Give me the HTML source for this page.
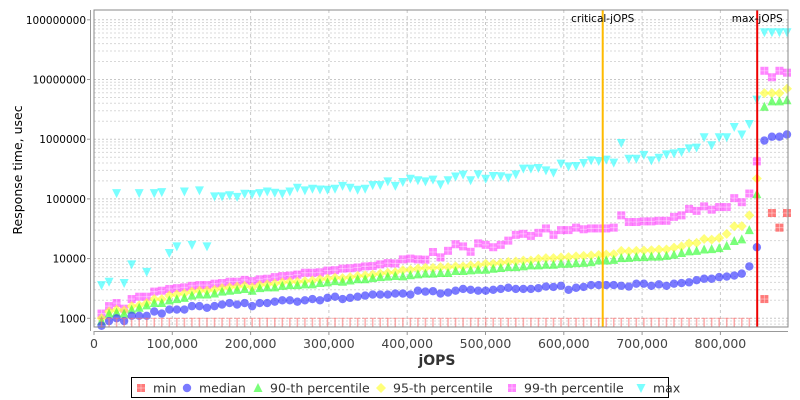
<!DOCTYPE html>
<html><head><meta charset="utf-8">
<style>
html,body{margin:0;padding:0;background:#fff;}
svg{display:block;font-family:"DejaVu Sans","Liberation Sans",sans-serif;}
</style></head>
<body>
<svg id="chart" width="800" height="400" viewBox="0 0 800 400" xmlns="http://www.w3.org/2000/svg">
  <rect x="0" y="0" width="800" height="400" fill="#fff"/>
  <g id="grid"></g>
  <g id="marks"></g>
  <rect x="94" y="10" width="694" height="317" fill="none" stroke="#888" stroke-width="1"/>
  <line x1="90.5" y1="10" x2="90.5" y2="331" stroke="#999"/>
  <line x1="94" y1="331.5" x2="788" y2="331.5" stroke="#999"/>
  <g id="axes"></g>
  <text x="437" y="365" font-size="14" font-weight="bold" fill="#333" text-anchor="middle">jOPS</text>
  <text transform="translate(22,170) rotate(-90)" font-size="12.5" fill="#000" text-anchor="middle">Response time, usec</text>
  <g id="legend">
    <rect x="131.5" y="377.5" width="537" height="20" fill="#fff" stroke="#000"/>
  </g>
</svg>
<script>
// ---- data (values in thousands of usec) ----
const xStep = 9620;
const criticalJops = 649700;
const maxJops = 847000;
const yTickLabels = ["1000","10000","100000","1000000","10000000","100000000"];
const xTickLabels = ["0","100,000","200,000","300,000","400,000","500,000","600,000","700,000","800,000"];
const minSeries = [1,1,1,1,1,1,1,1,1,1,1,1,1,1,1,1,1,1,1,1,1,1,1,1,1,1,1,1,1,1,1,1,1,1,1,1,1,1,1,1,1,1,1,1,1,1,1,1,1,1,1,1,1,1,1,1,1,1,1,1,1,1,1,1,1,1,1,1,1,1,1,1,1,1,1,1,1,1,1,1,1,1,1,1,1,1,1,null,2.1,58,33,58];
const medianSeries = [0.75,0.9,1.0,0.9,1.1,1.1,1.1,1.3,1.2,1.4,1.4,1.4,1.6,1.6,1.5,1.6,1.7,1.8,1.7,1.8,1.6,1.8,1.8,1.9,2.0,2.0,1.9,2.0,2.1,2.0,2.2,2.3,2.1,2.2,2.3,2.4,2.5,2.5,2.5,2.6,
2.6,2.5,2.9,2.8,2.85,2.6,2.7,2.9,3.1,3.0,2.9,2.9,3.0,3.1,3.25,3.1,3.1,3.1,3.2,3.4,3.35,3.5,3.0,3.25,3.35,3.6,3.6,3.6,3.6,3.5,3.4,3.8,3.8,3.5,3.7,3.5,3.8,3.9,4.0,4.35,4.6,4.6,4.9,5.0,
5.2,5.6,7.4,15.5,950,1100,1100,1200];
const p90Series = [0.9,1.2,1.25,1.2,1.4,1.5,1.65,1.8,1.8,2.0,2.1,2.2,2.4,2.5,2.5,2.6,2.8,2.9,3.0,3.1,2.9,3.2,3.3,3.3,3.5,3.6,3.6,3.7,3.7,3.9,4.0,4.2,4.1,4.3,4.5,4.5,4.7,4.9,5.0,5.1,
5.05,5.25,5.45,5.6,5.6,5.75,5.75,6.2,6.2,6.35,6.5,6.5,6.75,6.95,7.2,7.2,7.4,7.7,7.7,7.9,7.9,8.2,8.2,8.4,8.5,8.7,9.3,9.3,9.5,10.2,10.3,10.6,10.6,10.8,10.8,11.1,11.6,12.4,13.2,13.5,14.2,14.4,15.0,16.3,
19.7,21,30,120,3500,4300,4300,4500];
const p95Series = [1.0,1.3,1.4,1.35,1.6,1.65,1.8,2.1,2.1,2.4,2.5,2.6,2.8,2.9,2.9,3.0,3.2,3.3,3.4,3.5,3.3,3.6,3.7,3.8,4.0,4.1,4.1,4.2,4.3,4.5,4.6,4.8,4.7,4.9,5.1,5.2,5.4,5.6,5.8,5.9,
6.4,6.5,6.8,7.0,7.0,7.2,7.2,7.4,7.4,7.7,7.7,8.2,8.2,8.5,8.8,9.0,9.3,9.3,9.9,10.2,10.2,10.5,10.6,10.9,11.1,11.3,11.5,11.7,11.9,13.5,13.2,13.5,13.7,13.8,14.2,14.2,15.3,16.0,18.0,18.3,21.3,20.8,22.1,26.0,
34.8,35,53,220,5900,5900,5900,7000];
const p99Series = [1.2,1.6,1.8,1.45,2.1,2.3,2.3,2.8,2.9,3.1,3.2,3.3,3.5,3.6,3.6,3.8,3.9,4.1,4.1,4.4,4.2,4.5,4.6,4.9,5.1,5.2,5.4,5.8,5.8,5.9,6.3,6.4,6.8,6.9,7.1,7.4,7.5,8.0,8.4,8.3,
9.7,10,9.7,9.6,12.9,10.5,13.5,17.4,16,13,18,17,15.5,17,20,25,26,24,27,32,25,30,30,33,31,32,32,32,33,53,41,41,42,42,43,43,50,53,68,63,75,66,73,73,
103,88,123,425,14000,10900,14000,13000];
const maxSeries = [3.6,4.1,125,3.9,8,125,6,125,130,12.4,16,133,17,139,16,110,110,115,108,122,120,125,133,127,122,133,154,139,148,144,142,148,165,154,142,148,170,170,197,165,
192,218,205,197,210,174,205,237,255,205,258,218,242,239,227,258,321,321,330,301,275,389,351,355,400,441,431,454,405,863,470,470,547,441,490,558,579,610,703,721,1080,790,1080,1080,
1600,1200,1800,4600,62000,62000,62000,62000];

// ---- scales ----
const L=94,R=788,T=10,B=327;
const xPerUnit = 0.000783;
function xs(v){return L + v*xPerUnit;}
function ys(v){return 318.3 - (Math.log10(v)-3)*59.7;}
const NS="http://www.w3.org/2000/svg";
function mk(tag,attrs,parent){const e=document.createElementNS(NS,tag);for(const k in attrs)e.setAttribute(k,attrs[k]);parent.appendChild(e);return e;}

const grid=document.getElementById('grid');
const axes=document.getElementById('axes');
const marks=document.getElementById('marks');

for(let d=2; d<=8; d++){
  for(let m=1;m<=9;m++){
    const v=m*Math.pow(10,d);
    const y=ys(v);
    if(y<T||y>B) continue;
    const gl=mk('line',{x1:L,x2:R,y1:y.toFixed(1),y2:y.toFixed(1),stroke:m===1?'#c8c8c8':'#d8d8d8','stroke-width':1,'stroke-dasharray':'2,2'},grid);
    
    
  }
}
yTickLabels.forEach((lab,i)=>{
  const y=ys(Math.pow(10,3+i));
  const t=mk('text',{x:86,y:(y+4).toFixed(1),'font-size':10.5,'text-anchor':'end',fill:'#000'},axes);
  t.textContent=lab;
  
  
  const tk=mk('line',{x1:87,x2:90,y1:y,y2:y,stroke:'#999'},axes);
  
  
});
xTickLabels.forEach((lab,i)=>{
  const x=xs(i*100000);
  if(i>0){
    const gl=mk('line',{x1:x,x2:x,y1:T,y2:B,stroke:'#c8c8c8','stroke-dasharray':'3,3'},grid);
    
    
  }
  const tk=mk('line',{x1:x,x2:x,y1:331,y2:335,stroke:'#999'},axes);
  
  
  const t=mk('text',{x:x,y:348,'font-size':12.5,'text-anchor':'middle',fill:'#444'},axes);
  t.textContent=lab;
  
  
});

function marker(kind,cx,cy,color,parent){
  const g=mk('g',{},parent);
  if(kind==='square'){
    mk('rect',{x:cx-4,y:cy-4,width:8,height:8,fill:color,'fill-opacity':0.65},g);
    mk('line',{x1:cx-4,x2:cx+4,y1:cy,y2:cy,stroke:'#fff','stroke-opacity':0.4},g);
    mk('line',{x1:cx,x2:cx,y1:cy-4,y2:cy+4,stroke:'#fff','stroke-opacity':0.4},g);
  }else if(kind==='circle'){
    mk('circle',{cx:cx,cy:cy,r:4.2,fill:color,'fill-opacity':0.65},g);
  }else if(kind==='up'){
    mk('polygon',{points:`${cx},${cy-5} ${cx+4.5},${cy+4} ${cx-4.5},${cy+4}`,fill:color,'fill-opacity':0.65},g);
  }else if(kind==='diamond'){
    mk('polygon',{points:`${cx},${cy-5} ${cx+5},${cy} ${cx},${cy+5} ${cx-5},${cy}`,fill:color,'fill-opacity':0.65},g);
  }else if(kind==='down'){
    mk('polygon',{points:`${cx-4.5},${cy-4} ${cx+4.5},${cy-4} ${cx},${cy+5}`,fill:color,'fill-opacity':0.65},g);
  }else if(kind==='tee'){
    mk('line',{x1:cx-3,x2:cx+3,y1:cy,y2:cy,stroke:color,'stroke-opacity':0.6},g);
    mk('line',{x1:cx,x2:cx,y1:cy,y2:B,stroke:color,'stroke-opacity':0.6,'stroke-width':1.5},g);
  }
  return g;
}
const series=[
  {name:'p99',data:p99Series,kind:'square',color:'#ff44ff'},
  {name:'p95',data:p95Series,kind:'diamond',color:'#ffff33'},
  {name:'p90',data:p90Series,kind:'up',color:'#33ff33'},
  {name:'median',data:medianSeries,kind:'circle',color:'#3333ff'},
  {name:'max',data:maxSeries,kind:'down',color:'#33ffff'},
  {name:'min',data:minSeries,kind:'square',color:'#ff3333'}
];
series.forEach(s=>{
  const sg=mk('g',{},marks);
  
  
  s.data.forEach((v,i)=>{
    if(v==null) return;
    const cx=xs((i+1)*xStep);
    const cy=ys(v*1000);
    let kind=s.kind;
    if(s.name==='min' && v<=1) kind='tee';
    const m=marker(kind,cx,cy,s.name==='min'&&kind==='tee'?'#ff7777':s.color,sg);
    
    
  });
});

const cx=xs(criticalJops);
const cl=mk('line',{x1:cx,x2:cx,y1:T,y2:B,stroke:'#ffbb00','stroke-width':2},marks);


const ct=mk('text',{x:cx,y:22,'font-size':10.5,'text-anchor':'middle',fill:'#000'},marks);
ct.textContent='critical-jOPS';


const mx=xs(maxJops);
const ml=mk('line',{x1:mx,x2:mx,y1:T,y2:B,stroke:'#ee0000','stroke-width':2},marks);


const mt=mk('text',{x:mx,y:22,'font-size':10.5,'text-anchor':'middle',fill:'#000'},marks);
mt.textContent='max-jOPS';



const legend=document.getElementById('legend');
const legItems=[
  {label:'min',kind:'square',color:'#ff3333',mx:141,tx:153},
  {label:'median',kind:'circle',color:'#3333ff',mx:187,tx:199},
  {label:'90-th percentile',kind:'up',color:'#33ff33',mx:258,tx:270},
  {label:'95-th percentile',kind:'diamond',color:'#ffff33',mx:381,tx:393},
  {label:'99-th percentile',kind:'square',color:'#ff44ff',mx:512,tx:524},
  {label:'max',kind:'down',color:'#33ffff',mx:641,tx:653}
];
legItems.forEach(it=>{
  const g=mk('g',{},legend);
  
  
  marker(it.kind,it.mx,388,it.color,g);
  const t=mk('text',{x:it.tx,y:392.5,'font-size':12.5,fill:'#333'},g);
  t.textContent=it.label;
});
</script>
</body></html>
